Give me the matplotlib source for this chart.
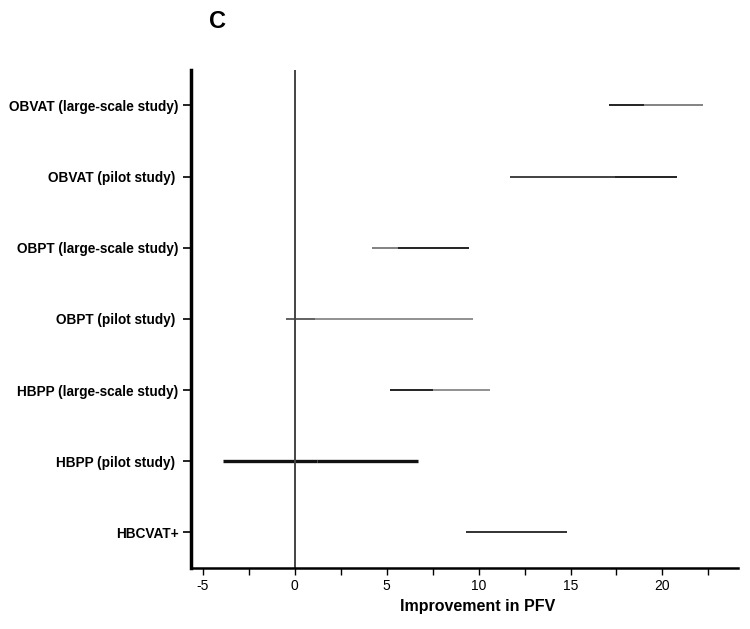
import matplotlib
matplotlib.use("Agg")
import matplotlib.pyplot as plt

labels = ["OBVAT (large-scale study)", "OBVAT (pilot study) ", "OBPT (large-scale study)",
          "OBPT (pilot study) ", "HBPP (large-scale study)", "HBPP (pilot study) ", "HBCVAT+"]
lower = [17.1, 11.7, 4.2, -0.5, 5.2, -3.9, 9.3]
estimate = [19.0, 17.4, 5.6, 1.1, 7.5, 1.2, 10.3]
upper = [22.2, 20.8, 9.5, 9.7, 10.6, 6.7, 14.8]
left_color = ["#111111", "#333333", "#777777", "#555555", "#111111", "#111111", "#222222"]
right_color = ["#7a7a7a", "#111111", "#111111", "#888888", "#888888", "#111111", "#222222"]
widths = [1.3, 1.3, 1.3, 1.3, 1.3, 2.4, 1.3]

plt.rcParams['font.family'] = ['Liberation Sans', 'DejaVu Sans']
plt.rcParams['axes.unicode_minus'] = False
fig = plt.figure(figsize=(7.5, 6.29), dpi=100)
ax = fig.add_axes([0.2547, 0.097, 0.729, 0.792])

ypos = list(range(len(labels)))
for i in ypos:
    ax.plot([lower[i], estimate[i]], [i, i], color=left_color[i], lw=widths[i], solid_capstyle='butt')
    ax.plot([estimate[i], upper[i]], [i, i], color=right_color[i], lw=widths[i], solid_capstyle='butt')

ax.axvline(0, color="#444444", lw=1.4)

ax.set_ylim(6.5, -0.5)
ax.set_xlim(-5.65, 24.1)
ax.set_yticks(ypos)
ax.set_yticklabels(labels, fontsize=9.8, fontweight='bold')
ax.set_xticks([-5, 0, 5, 10, 15, 20])
ax.set_xticks([-2.5, 2.5, 7.5, 12.5, 17.5, 22.5], minor=True)
ax.tick_params(axis='x', which='both', length=5, width=1, labelsize=10, direction='out', pad=3)
ax.tick_params(axis='y', length=6, width=1.2, pad=3)
for s in ['top', 'right']:
    ax.spines[s].set_visible(False)
ax.spines['left'].set_linewidth(2.5)
ax.spines['bottom'].set_linewidth(1.8)
ax.set_xlabel("Improvement in PFV", fontsize=11.5, fontweight='bold')
ax.xaxis.set_label_coords(0.524, -0.063)

fig.text(0.29, 0.966, "C", fontsize=17, fontweight='bold', ha='center', va='center')

fig.savefig("out.png", dpi=100)
